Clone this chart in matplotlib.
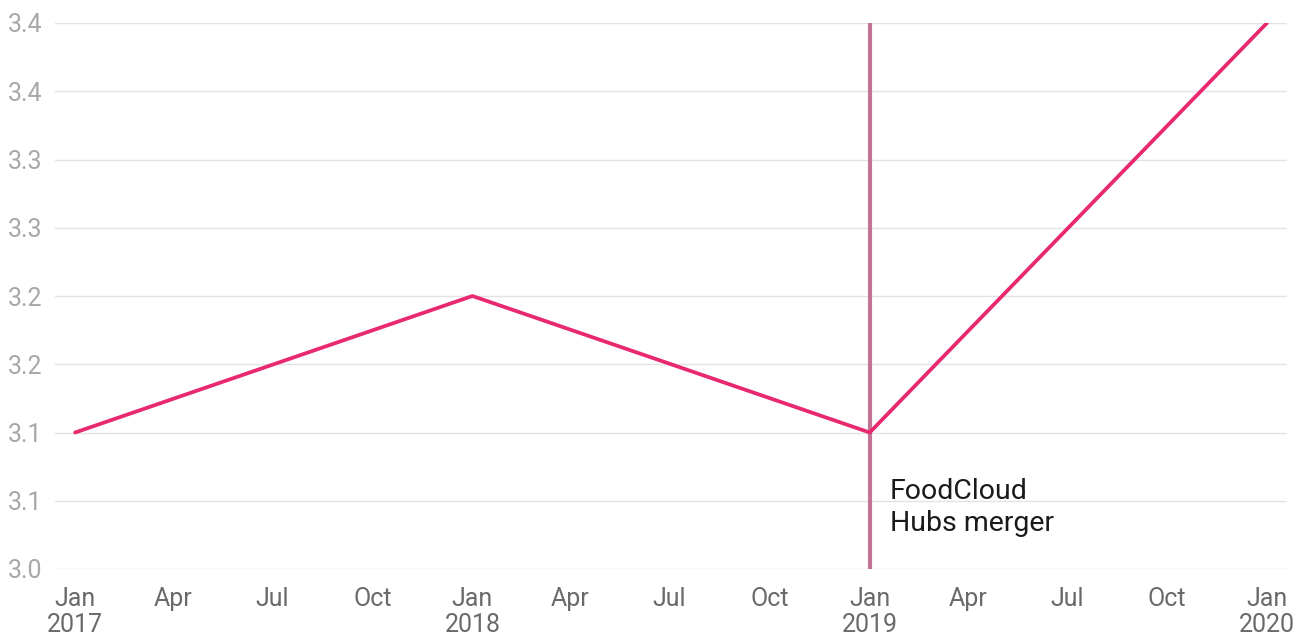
import matplotlib
matplotlib.use("Agg")
import matplotlib.pyplot as plt
import matplotlib.dates as mdates
import numpy as np
import pandas as pd

plt.rcParams["font.family"] = ["Roboto", "DejaVu Sans"]

# ---------------------------------------------------------------------------
# Data
# ---------------------------------------------------------------------------
dates = pd.to_datetime(["2017-01-01", "2018-01-01", "2019-01-01", "2020-01-01"])
values = [3.10, 3.20, 3.10, 3.40]

event_date = pd.Timestamp("2019-01-01")
event_label = "FoodCloud\nHubs merger"

y_ticks = [3.00, 3.05, 3.10, 3.15, 3.20, 3.25, 3.30, 3.35, 3.40]
y_tick_labels = ["3.0", "3.1", "3.1", "3.2", "3.2", "3.3", "3.3", "3.4", "3.4"]

x_ticks = pd.date_range("2017-01-01", "2020-01-01", freq="QS")
x_tick_labels = [f"Jan\n{d.year}" if d.month == 1 else d.strftime("%b") for d in x_ticks]

# ---------------------------------------------------------------------------
# Figure
# ---------------------------------------------------------------------------
fig = plt.figure(figsize=(13.04, 6.42), dpi=100)
ax = fig.add_axes([55 / 1304, (642 - 569) / 642, (1287 - 55) / 1304, (569 - 23) / 642])

ax.plot(dates, values, color="#e8286f", lw=2.7, solid_capstyle="round",
        solid_joinstyle="round", zorder=4)
ax.axvline(event_date, color="#c27494", lw=3.0, zorder=3)
# label sits just right of the event line, below the series
ax.annotate(event_label, xy=(event_date, 3.0), xytext=(20, 91),
            textcoords="offset pixels", ha="left", va="top",
            fontsize=20.5, color="#1a1a1a", linespacing=1.22)

x0 = mdates.date2num(dates[0]) - 18.5
x1 = mdates.date2num(dates[-1]) + 18.4
ax.set_xlim(x0, x1)
ax.set_ylim(3.0, 3.4)

ax.set_yticks(y_ticks)
ax.set_yticklabels(y_tick_labels)
ax.set_xticks(x_ticks)
ax.set_xticklabels(x_tick_labels)

ax.grid(axis="y", color="#e3e3e3", lw=1.0)
ax.set_axisbelow(True)
for sp in ax.spines.values():
    sp.set_visible(False)
ax.tick_params(axis="both", length=0)
ax.tick_params(axis="y", labelsize=18, labelcolor="#a8a8a8", pad=9)
ax.tick_params(axis="x", labelsize=18, labelcolor="#6a6a6a", pad=13)
for lbl in ax.get_xticklabels():
    lbl.set_linespacing(1.1)

fig.savefig("out.png", dpi=100)
